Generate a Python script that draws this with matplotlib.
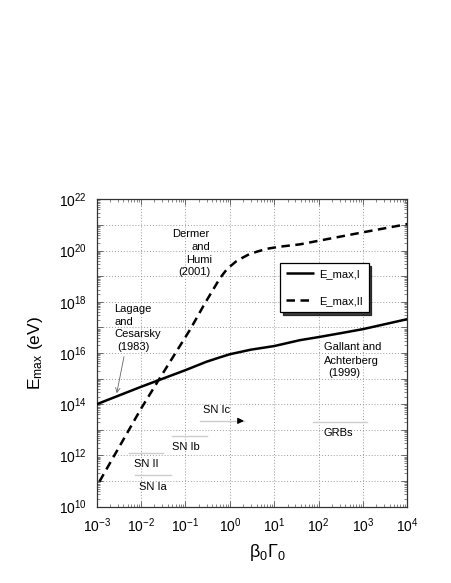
import numpy as np
import matplotlib
matplotlib.use("Agg")
import matplotlib.pyplot as plt
from matplotlib.ticker import LogLocator, FuncFormatter, NullFormatter

plt.rcParams['font.family'] = ['Liberation Sans', 'DejaVu Sans']
plt.rcParams['mathtext.fontset'] = 'custom'
plt.rcParams['mathtext.rm'] = 'Liberation Sans'
plt.rcParams['mathtext.it'] = 'Liberation Sans:italic'
plt.rcParams['mathtext.bf'] = 'Liberation Sans:bold'

# ---- data ----
x_I = [1e-3, 1e-2, 0.1, 0.3, 0.6, 1.0, 3.0, 10.0, 38.0, 100.0, 310.0, 1000.0, 1e4]
logE_I = [14.0, 14.68, 15.33, 15.66, 15.83, 15.95, 16.13, 16.27, 16.5, 16.62, 16.77, 16.93, 17.32]

x_II = [1.15e-3, 0.01, 0.025, 0.126, 0.275, 0.4, 0.6, 0.8, 1.0, 1.4, 1.85, 2.7, 4.0, 7.0, 13.5, 38.0, 100.0, 1000.0, 1e4]
logE_II = [10.98, 13.83, 14.95, 16.9, 17.94, 18.41, 18.92, 19.2, 19.37, 19.58, 19.7, 19.85, 19.95, 20.07, 20.15, 20.24, 20.38, 20.71, 21.03]

legend_labels = ["E_max,I", "E_max,II"]

# source ranges (beta0*Gamma0 intervals) and their log10 E levels
src_names = ["SN Ic", "GRBs", "SN Ib", "SN II", "SN Ia"]
src_xmin = [0.213, 75.0, 0.0498, 0.00535, 0.0073]
src_xmax = [2.09, 1230.0, 0.306, 0.0312, 0.0473]
src_logE = [13.35, 13.31, 12.76, 12.09, 11.23]

x_ticks_exp = [-3, -2, -1, 0, 1, 2, 3, 4]
y_ticks_exp = list(range(10, 23))

# ---- figure ----
fig = plt.figure(figsize=(4.52, 5.83), dpi=100)
ax = fig.add_axes([0.214, 0.1309, 0.687, 0.5273])
ax.set_xscale('log')
ax.set_yscale('log')
ax.set_xlim(1e-3, 1e4)
ax.set_ylim(1e10, 1e22)

E_I = [10.0 ** v for v in logE_I]
E_II = [10.0 ** v for v in logE_II]
l1, = ax.plot(x_I, E_I, color='black', lw=1.8, solid_capstyle='butt', zorder=4)
l2, = ax.plot(x_II, E_II, color='black', lw=1.8, dashes=(3.4, 2.2), zorder=4)

# ticks
ax.xaxis.set_major_locator(LogLocator(base=10, numticks=20))
ax.yaxis.set_major_locator(LogLocator(base=10, numticks=30))
ax.xaxis.set_minor_locator(LogLocator(base=10, subs=np.arange(2, 10), numticks=30))
ax.yaxis.set_minor_locator(LogLocator(base=10, subs=np.arange(2, 10), numticks=30))
ax.xaxis.set_minor_formatter(NullFormatter())
ax.yaxis.set_minor_formatter(NullFormatter())

def xfmt(v, pos):
    e = int(round(np.log10(v)))
    return r"$\mathregular{10^{%d}}$" % e

def yfmt(v, pos):
    e = int(round(np.log10(v)))
    if e % 2 == 0:
        return r"$\mathregular{10^{%d}}$" % e
    return ""

ax.xaxis.set_major_formatter(FuncFormatter(xfmt))
ax.yaxis.set_major_formatter(FuncFormatter(yfmt))
ax.tick_params(which='both', direction='in', top=True, right=True, colors='#555555',
               labelcolor='black', labelsize=10)
ax.tick_params(which='major', length=4, width=0.6, pad=7)
ax.tick_params(which='minor', length=2.5, width=0.5)
ax.grid(True, which='major', linestyle=(0, (1, 2)), color='#999999', linewidth=0.7)
for s in ax.spines.values():
    s.set_linewidth(0.9)
    s.set_color('#333333')

ax.set_xlabel(r"β$_0$Γ$_0$", fontsize=13)
ax.xaxis.set_label_coords(0.55, -0.115)
ax.set_ylabel(r"E$_{\mathregular{max}}$ (eV)", fontsize=12.5)
ax.yaxis.set_label_coords(-0.165, 0.5)

# source ranges
for name, a, b, le in zip(src_names, src_xmin, src_xmax, src_logE):
    ax.plot([a, b], [10 ** le, 10 ** le], color='#cccccc', lw=1.0, zorder=2)
# arrow on SN Ic
ax.annotate("", xy=(src_xmax[0], 10 ** src_logE[0]), xytext=(src_xmax[0] / 1.35, 10 ** src_logE[0]),
            arrowprops=dict(arrowstyle='-|>', color='black', lw=0.8, mutation_scale=9,
                            shrinkA=0, shrinkB=0), zorder=3)

fs = 8
def T(lx, ly, s, ha='left'):
    ax.text(10 ** lx, 10 ** ly, s, fontsize=fs, ha=ha, va='center', zorder=5)

# source labels
T(-0.29, 13.78, "SN Ic", ha='center')
T(2.45, 12.89, "GRBs", ha='center')
T(-1.0, 12.34, "SN Ib", ha='center')
T(-1.89, 11.66, "SN II", ha='center')
T(-1.74, 10.76, "SN Ia", ha='center')

# references
T(-0.47, 20.63, "Dermer", ha='right')
T(-0.43, 20.13, "and", ha='right')
T(-0.40, 19.63, "Humi", ha='right')
T(-0.44, 19.15, "(2001)", ha='right')

T(-2.603, 17.72, "Lagage")
T(-2.603, 17.22, "and")
T(-2.603, 16.73, "Cesarsky")
T(-2.527, 16.25, "(1983)")

T(2.123, 16.22, "Gallant and")
T(2.123, 15.70, "Achterberg")
T(2.213, 15.23, "(1999)")

ax.annotate("", xy=(10 ** -2.549, 10 ** 14.43), xytext=(10 ** -2.385, 10 ** 15.86),
            arrowprops=dict(arrowstyle='->', color='#666666', lw=0.6, mutation_scale=8,
                            shrinkA=0, shrinkB=0), zorder=3)

leg = ax.legend([l1, l2], legend_labels, loc='upper left', bbox_to_anchor=(0.59, 0.793),
                fontsize=8, frameon=True, fancybox=False, edgecolor='black', framealpha=1,
                shadow={'color': 'black', 'alpha': 0.75}, handlelength=2.5, labelspacing=1.5,
                borderpad=0.55, handletextpad=0.45, borderaxespad=0)
leg.get_frame().set_linewidth(0.9)
leg.set_zorder(6)

fig.savefig("out.png", dpi=100)
